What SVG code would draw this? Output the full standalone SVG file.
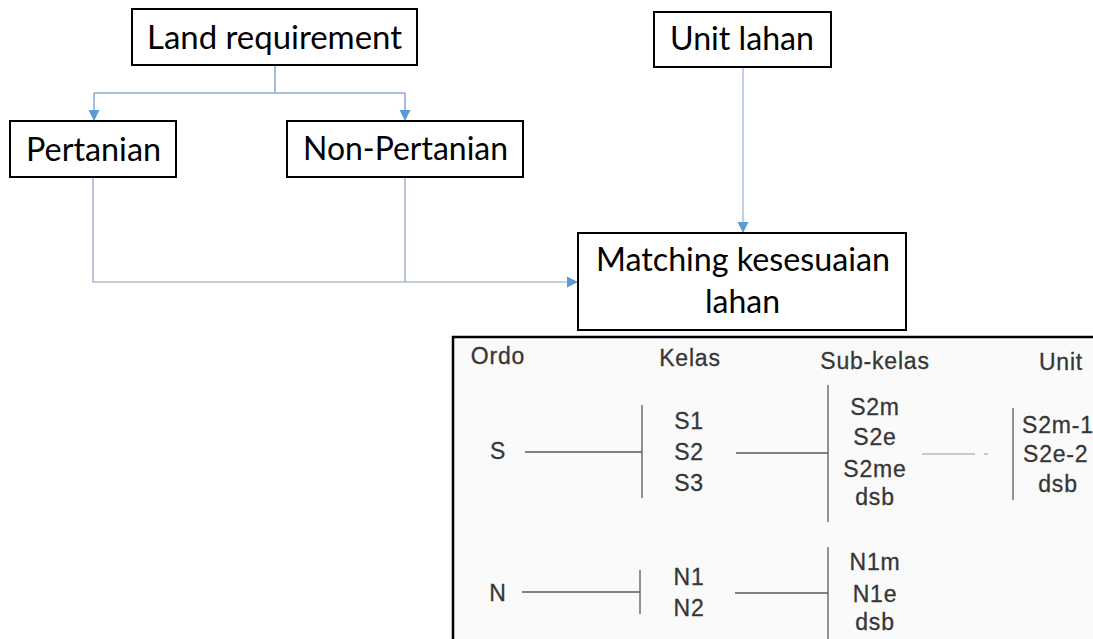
<svg xmlns="http://www.w3.org/2000/svg" width="1093" height="639" viewBox="0 0 1093 639">
<defs>
<style>
.box{fill:#fff;stroke:#000;stroke-width:2}
.lbl{font-family:Lato,"Open Sans","Liberation Sans",sans-serif;font-size:32px;fill:#000;text-anchor:middle}
.c1{fill:none;stroke:#8FAADC;stroke-width:1.6}
.c2{fill:none;stroke:#8E9DBA;stroke-width:1.2}
.c3{fill:none;stroke:#A7BBE0;stroke-width:1.4}
.t{font-family:"Liberation Sans",Arial,sans-serif;font-size:23px;letter-spacing:0.8px;fill:#363636;stroke:#363636;stroke-width:0.3;text-anchor:middle}
.tl{stroke:#5a5a5a;stroke-width:1.3;fill:none}
.tf{stroke:#9a9a9a;stroke-width:1.2;fill:none}
</style>
<marker id="ah" markerUnits="userSpaceOnUse" markerWidth="12" markerHeight="12" viewBox="0 0 12 12" refX="11" refY="6" orient="auto">
<path d="M0,0.5 L11,6 L0,11.5 Z" fill="#5B9BD5"/>
</marker>
</defs>
<rect width="1093" height="639" fill="#fff"/>

<g id="connectors">
<path class="c1" d="M275,65 V93"/>
<path class="c1" d="M94,93 H405"/>
<path class="c1" d="M94,93 V121" marker-end="url(#ah)"/>
<path class="c1" d="M405,93 V121" marker-end="url(#ah)"/>
<path class="c2" d="M93,177 V282 H578" marker-end="url(#ah)"/>
<path class="c2" d="M405,177 V282"/>
<path class="c3" d="M743,67 V233" marker-end="url(#ah)"/>
</g>

<g id="land-requirement">
<rect class="box" x="132" y="9" width="285" height="56"/>
<text class="lbl" x="274.5" y="49" textLength="255" lengthAdjust="spacingAndGlyphs">Land requirement</text>
</g>
<g id="pertanian">
<rect class="box" x="10" y="121" width="166" height="56"/>
<text class="lbl" x="93.5" y="161" textLength="135" lengthAdjust="spacingAndGlyphs">Pertanian</text>
</g>
<g id="non-pertanian">
<rect class="box" x="287" y="121" width="236" height="56"/>
<text class="lbl" x="405.5" y="160" textLength="205" lengthAdjust="spacingAndGlyphs">Non-Pertanian</text>
</g>
<g id="unit-lahan">
<rect class="box" x="654" y="12" width="177" height="55"/>
<text class="lbl" x="742" y="50" textLength="144" lengthAdjust="spacingAndGlyphs">Unit lahan</text>
</g>
<g id="matching">
<rect class="box" x="578" y="233" width="328" height="97"/>
<text class="lbl" x="743" y="271" textLength="294" lengthAdjust="spacingAndGlyphs">Matching kesesuaian</text>
<text class="lbl" x="742.5" y="313" textLength="75" lengthAdjust="spacingAndGlyphs">lahan</text>
</g>

<g id="table">
<rect x="453" y="337" width="700" height="340" fill="#fafafa" stroke="#000" stroke-width="2.5"/>
<text class="t" x="498" y="364">Ordo</text>
<text class="t" x="690" y="366">Kelas</text>
<text class="t" x="875" y="369">Sub-kelas</text>
<text class="t" x="1061" y="370">Unit</text>

<text class="t" x="498" y="459">S</text>
<path class="tl" d="M525,452 H642 M642,405 V498"/>
<text class="t" x="689" y="429">S1</text>
<text class="t" x="689" y="460">S2</text>
<text class="t" x="689" y="491">S3</text>
<path class="tl" d="M736,453 H828 M828,385 V522"/>
<text class="t" x="875" y="415">S2m</text>
<text class="t" x="875" y="445">S2e</text>
<text class="t" x="875" y="477">S2me</text>
<text class="t" x="875" y="505">dsb</text>
<path class="tf" d="M922,454 H975 M984,454 H988"/>
<path class="tl" d="M1013,408 V500"/>
<text class="t" x="1022" y="433" style="text-anchor:start">S2m-1</text>
<text class="t" x="1023" y="462" style="text-anchor:start">S2e-2</text>
<text class="t" x="1058" y="492">dsb</text>

<text class="t" x="498" y="601">N</text>
<path class="tl" d="M522,592 H640 M640,570 V614"/>
<text class="t" x="689" y="585">N1</text>
<text class="t" x="689" y="616">N2</text>
<path class="tl" d="M735,593 H828 M828,547 V639"/>
<text class="t" x="875" y="570">N1m</text>
<text class="t" x="875" y="602">N1e</text>
<text class="t" x="875" y="630">dsb</text>
</g>
</svg>
